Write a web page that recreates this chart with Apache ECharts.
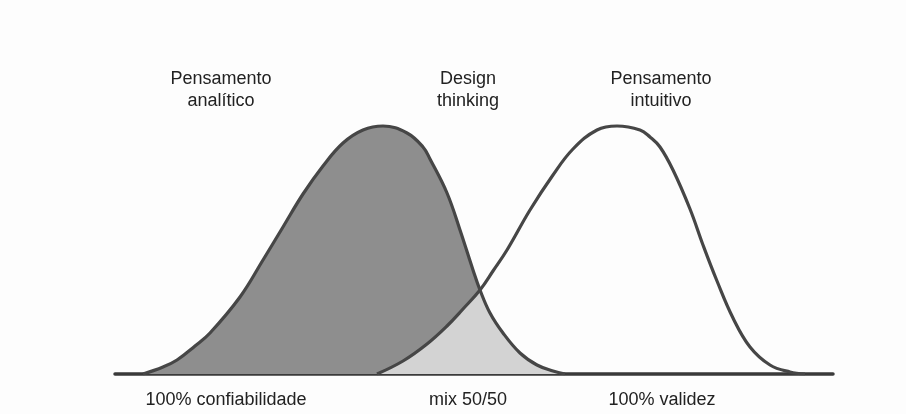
<!DOCTYPE html>
<html>
<head>
<meta charset="utf-8">
<script src="https://cdn.jsdelivr.net/npm/echarts@6/dist/echarts.min.js"></script>
<style>html,body{margin:0;padding:0;background:#fdfdfd;}#c{width:906px;height:414px;}</style>
</head>
<body>
<div id="c"></div>
<script>
// Curve heights (x: position along the baseline, y: height above it)
const analyticX = [28, 48, 62, 80, 95, 125, 148, 168, 188, 208, 228, 248, 268, 292, 308, 315, 332, 345, 358, 365, 375, 388, 405, 422, 438, 450];
const analyticY = [0, 7, 14, 28, 41, 77, 114, 147, 180, 208, 231, 244, 248, 241, 227, 215, 181, 144, 104, 84, 61, 41, 21, 9, 3, 0];
const intuitiveX = [262, 288, 312, 332, 348, 365, 378, 392, 415, 438, 458, 482, 502, 525, 535, 545, 558, 575, 588, 602, 618, 635, 655, 675, 690];
const intuitiveY = [0, 13, 30, 48, 65, 84, 103, 124, 164, 199, 225, 244, 248, 244, 237, 227, 204, 165, 129, 93, 56, 27, 9, 2, 0];
// Light shaded "mix" region: under the intuitive curve up to the crossing, then under the analytic curve
const mixRiseX = [262, 288, 312, 332, 348, 365];
const mixRiseY = [0, 13, 30, 48, 65, 84];
const mixFallX = [365, 375, 388, 405, 422, 438, 450];
const mixFallY = [84, 61, 41, 21, 9, 3, 0];

const topLabels = ['Pensamento\nanalítico', 'Design\nthinking', 'Pensamento\nintuitivo'];
const bottomLabels = ['100% confiabilidade', 'mix 50/50', '100% validez'];

const pairs = (xs, ys) => xs.map((x, i) => [x, ys[i]]);

const chart = echarts.init(document.getElementById('c'), null, {renderer: 'canvas'});
const lineColor = '#464646';
const font = '18px "Liberation Sans", Arial, sans-serif';
const sm = 0.4;

chart.setOption({
  animation: false,
  backgroundColor: '#fdfdfd',
  grid: {left: 115, right: 73, top: 124, bottom: 40},
  xAxis: {
    type: 'value', min: 0, max: 718,
    axisLine: {show: true, onZero: true, lineStyle: {color: '#3a3a3a', width: 3.5}},
    axisTick: {show: false}, axisLabel: {show: false}, splitLine: {show: false}
  },
  yAxis: {
    type: 'value', min: 0, max: 250, show: false, splitLine: {show: false}
  },
  series: [
    {
      type: 'line', data: pairs(analyticX, analyticY), smooth: sm,
      symbol: 'none', lineStyle: {width: 0}, areaStyle: {color: '#8e8e8e', opacity: 1}, z: 1
    },
    {
      type: 'line', data: pairs(mixRiseX, mixRiseY), smooth: sm,
      symbol: 'none', lineStyle: {width: 0}, areaStyle: {color: '#d3d3d3', opacity: 1}, z: 2
    },
    {
      type: 'line', data: pairs(mixFallX, mixFallY), smooth: sm,
      symbol: 'none', lineStyle: {width: 0}, areaStyle: {color: '#d3d3d3', opacity: 1}, z: 2
    },
    {
      type: 'line', data: pairs(analyticX, analyticY), smooth: sm,
      symbol: 'none', lineStyle: {width: 3.2, color: lineColor}, z: 3
    },
    {
      type: 'line', data: pairs(intuitiveX, intuitiveY), smooth: sm,
      symbol: 'none', lineStyle: {width: 3.2, color: lineColor}, z: 3
    }
  ],
  graphic: [
    {type: 'text', x: 221, y: 90, style: {text: topLabels[0], font: font, fill: '#222', textAlign: 'center', textVerticalAlign: 'middle', lineHeight: 22}},
    {type: 'text', x: 468, y: 90, style: {text: topLabels[1], font: font, fill: '#222', textAlign: 'center', textVerticalAlign: 'middle', lineHeight: 22}},
    {type: 'text', x: 661, y: 90, style: {text: topLabels[2], font: font, fill: '#222', textAlign: 'center', textVerticalAlign: 'middle', lineHeight: 22}},
    {type: 'text', x: 226, y: 400, style: {text: bottomLabels[0], font: font, fill: '#222', textAlign: 'center', textVerticalAlign: 'middle'}},
    {type: 'text', x: 468, y: 400, style: {text: bottomLabels[1], font: font, fill: '#222', textAlign: 'center', textVerticalAlign: 'middle'}},
    {type: 'text', x: 662, y: 400, style: {text: bottomLabels[2], font: font, fill: '#222', textAlign: 'center', textVerticalAlign: 'middle'}}
  ]
});
</script>
</body>
</html>
